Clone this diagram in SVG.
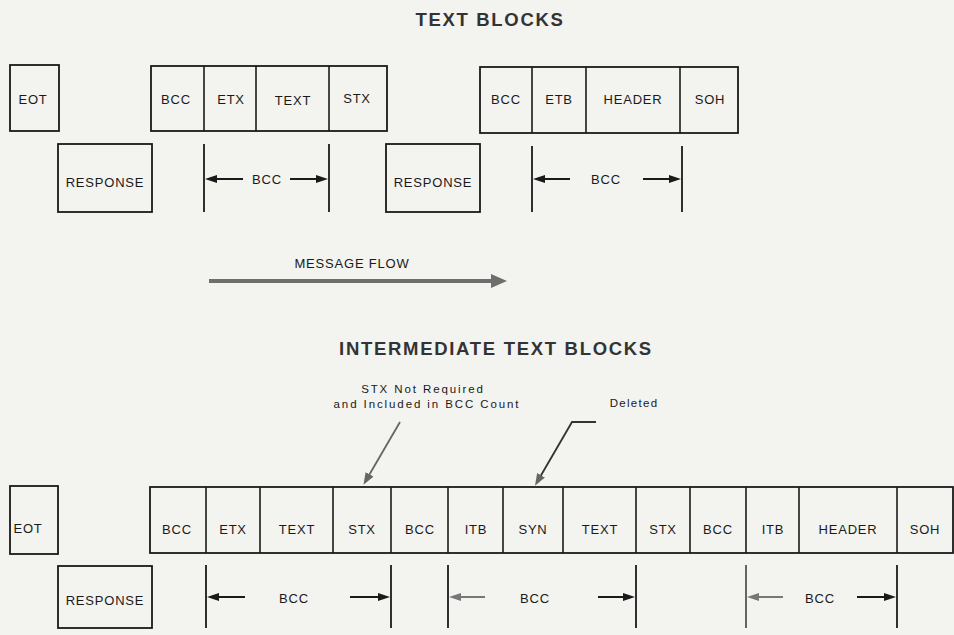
<svg xmlns="http://www.w3.org/2000/svg" width="954" height="635" viewBox="0 0 954 635">
<defs>
<style>
.bg{fill:#f3f3f0}
.box{fill:none;stroke:#1a1a1a;stroke-width:1.8}
.div{stroke:#1a1a1a;stroke-width:1.6}
.lbl{font-family:"Liberation Sans",Arial,sans-serif;font-size:13px;letter-spacing:0.8px;fill:#1a1a1a;text-anchor:middle}
.title{font-family:"Liberation Sans",Arial,sans-serif;font-size:18.5px;font-weight:bold;letter-spacing:1.7px;fill:#333;text-anchor:middle}
.note{font-family:"Liberation Sans",Arial,sans-serif;font-size:11.5px;letter-spacing:1.9px;fill:#1a1a1a;text-anchor:middle}
.tick{stroke:#1a1a1a;stroke-width:1.8}
.arr{stroke:#1a1a1a;stroke-width:2;fill:none;marker-end:url(#ah)}
.arrg{stroke:#777;stroke-width:2;fill:none;marker-end:url(#ahg)}
.flow{stroke:#6e6e6e;stroke-width:4;fill:none;marker-end:url(#ahf)}
.call{stroke:#666;stroke-width:1.8;fill:none;marker-end:url(#ahc)}
.call2{stroke:#333;stroke-width:1.8;fill:none;marker-end:url(#ahc)}
</style>
<marker id="ah" viewBox="0 0 12 8" refX="6" refY="4" markerWidth="12" markerHeight="8" markerUnits="userSpaceOnUse" orient="auto"><path d="M0,0 L12,4 L0,8 z" fill="#1a1a1a"/></marker>
<marker id="ahg" viewBox="0 0 12 8" refX="6" refY="4" markerWidth="12" markerHeight="8" markerUnits="userSpaceOnUse" orient="auto"><path d="M0,0 L12,4 L0,8 z" fill="#777"/></marker>
<marker id="ahf" viewBox="0 0 16 14" refX="6" refY="7" markerWidth="16" markerHeight="14" markerUnits="userSpaceOnUse" orient="auto"><path d="M0,0 L16,7 L0,14 z" fill="#6e6e6e"/></marker>
<marker id="ahc" viewBox="0 0 12 9" refX="6" refY="4.5" markerWidth="12" markerHeight="9" markerUnits="userSpaceOnUse" orient="auto"><path d="M0,0 L12,4.5 L0,9 z" fill="#666"/></marker>
</defs>
<rect class="bg" x="0" y="0" width="954" height="635"/>

<text class="title" x="490" y="26">TEXT BLOCKS</text>
<text class="title" x="496" y="355">INTERMEDIATE TEXT BLOCKS</text>

<!-- Top section nodes -->
<g id="eot-top">
<rect class="box" x="10" y="65" width="49" height="66"/>
<text class="lbl" x="33" y="104">EOT</text>
</g>
<g id="response-top-1">
<rect class="box" x="58" y="144" width="94" height="68"/>
<text class="lbl" x="105" y="187">RESPONSE</text>
</g>
<g id="block-top-1">
<rect class="box" x="151" y="66" width="236" height="65"/>
<line class="div" x1="204" y1="66" x2="204" y2="131"/>
<line class="div" x1="256" y1="66" x2="256" y2="131"/>
<line class="div" x1="329" y1="66" x2="329" y2="131"/>
<text class="lbl" x="176" y="104">BCC</text>
<text class="lbl" x="231" y="104">ETX</text>
<text class="lbl" x="293" y="105">TEXT</text>
<text class="lbl" x="357" y="103">STX</text>
</g>
<g id="response-top-2">
<rect class="box" x="386" y="144" width="94" height="68"/>
<text class="lbl" x="433" y="187">RESPONSE</text>
</g>
<g id="block-top-2">
<rect class="box" x="480" y="67" width="258" height="66"/>
<line class="div" x1="532" y1="67" x2="532" y2="133"/>
<line class="div" x1="586" y1="67" x2="586" y2="133"/>
<line class="div" x1="680" y1="67" x2="680" y2="133"/>
<text class="lbl" x="506" y="104">BCC</text>
<text class="lbl" x="559" y="104">ETB</text>
<text class="lbl" x="633" y="104">HEADER</text>
<text class="lbl" x="710" y="104">SOH</text>
</g>

<!-- Bottom section nodes -->
<g id="eot-bottom">
<rect class="box" x="10" y="486" width="48" height="68"/>
<text class="lbl" x="28" y="533">EOT</text>
</g>
<g id="response-bottom">
<rect class="box" x="58" y="566" width="94" height="62"/>
<text class="lbl" x="105" y="605">RESPONSE</text>
</g>
<g id="block-bottom">
<rect class="box" x="150" y="487" width="803" height="66"/>
<line class="div" x1="206" y1="487" x2="206" y2="553"/>
<line class="div" x1="260" y1="487" x2="260" y2="553"/>
<line class="div" x1="333" y1="487" x2="333" y2="553"/>
<line class="div" x1="391" y1="487" x2="391" y2="553"/>
<line class="div" x1="448" y1="487" x2="448" y2="553"/>
<line class="div" x1="503" y1="487" x2="503" y2="553"/>
<line class="div" x1="563" y1="487" x2="563" y2="553"/>
<line class="div" x1="636" y1="487" x2="636" y2="553"/>
<line class="div" x1="690" y1="487" x2="690" y2="553"/>
<line class="div" x1="746" y1="487" x2="746" y2="553"/>
<line class="div" x1="799" y1="487" x2="799" y2="553"/>
<line class="div" x1="897" y1="487" x2="897" y2="553"/>
<text class="lbl" x="177" y="534">BCC</text>
<text class="lbl" x="233" y="534">ETX</text>
<text class="lbl" x="297" y="534">TEXT</text>
<text class="lbl" x="362" y="534">STX</text>
<text class="lbl" x="420" y="534">BCC</text>
<text class="lbl" x="476" y="534">ITB</text>
<text class="lbl" x="533" y="534">SYN</text>
<text class="lbl" x="600" y="534">TEXT</text>
<text class="lbl" x="663" y="534">STX</text>
<text class="lbl" x="718" y="534">BCC</text>
<text class="lbl" x="773" y="534">ITB</text>
<text class="lbl" x="848" y="534">HEADER</text>
<text class="lbl" x="925" y="534">SOH</text>
</g>

<!-- Labels -->
<text class="lbl" x="352" y="268">MESSAGE FLOW</text>
<text class="note" x="423" y="393">STX Not Required</text>
<text class="note" x="427" y="408">and Included in BCC Count</text>
<text class="note" x="634" y="407" style="letter-spacing:1.3px">Deleted</text>

<!-- Connectors -->
<g id="connectors">
<line class="flow" x1="209" y1="281" x2="497" y2="281"/>
<line class="call" x1="400" y1="422" x2="366.5" y2="479.5"/>
<polyline class="call2" points="596,422 572,422 538,480.5"/>

<line class="tick" x1="204" y1="144" x2="204" y2="212"/>
<line class="tick" x1="329" y1="144" x2="329" y2="212"/>
<line class="arr" x1="243" y1="179" x2="211" y2="179"/>
<text class="lbl" x="267" y="184">BCC</text>
<line class="arr" x1="290" y1="179" x2="322" y2="179"/>

<line class="tick" x1="532" y1="146" x2="532" y2="212"/>
<line class="tick" x1="682" y1="146" x2="682" y2="212"/>
<line class="arr" x1="570" y1="179" x2="539" y2="179"/>
<text class="lbl" x="606" y="184">BCC</text>
<line class="arr" x1="643" y1="179" x2="675" y2="179"/>

<line class="tick" x1="206" y1="565" x2="206" y2="628"/>
<line class="tick" x1="391" y1="565" x2="391" y2="628"/>
<line class="arr" x1="245" y1="597" x2="213" y2="597"/>
<text class="lbl" x="294" y="603">BCC</text>
<line class="arr" x1="350" y1="597" x2="384" y2="597"/>

<line class="tick" x1="448" y1="565" x2="448" y2="628"/>
<line class="tick" x1="636" y1="565" x2="636" y2="628"/>
<line class="arrg" x1="485" y1="597" x2="455" y2="597"/>
<text class="lbl" x="535" y="603">BCC</text>
<line class="arr" x1="598" y1="597" x2="629" y2="597"/>

<line class="tick" x1="746" y1="565" x2="746" y2="628" style="stroke:#555"/>
<line class="tick" x1="897" y1="565" x2="897" y2="628"/>
<line class="arrg" x1="783" y1="597" x2="753" y2="597"/>
<text class="lbl" x="820" y="603">BCC</text>
<line class="arr" x1="857" y1="597" x2="890" y2="597"/>
</g>
</svg>
